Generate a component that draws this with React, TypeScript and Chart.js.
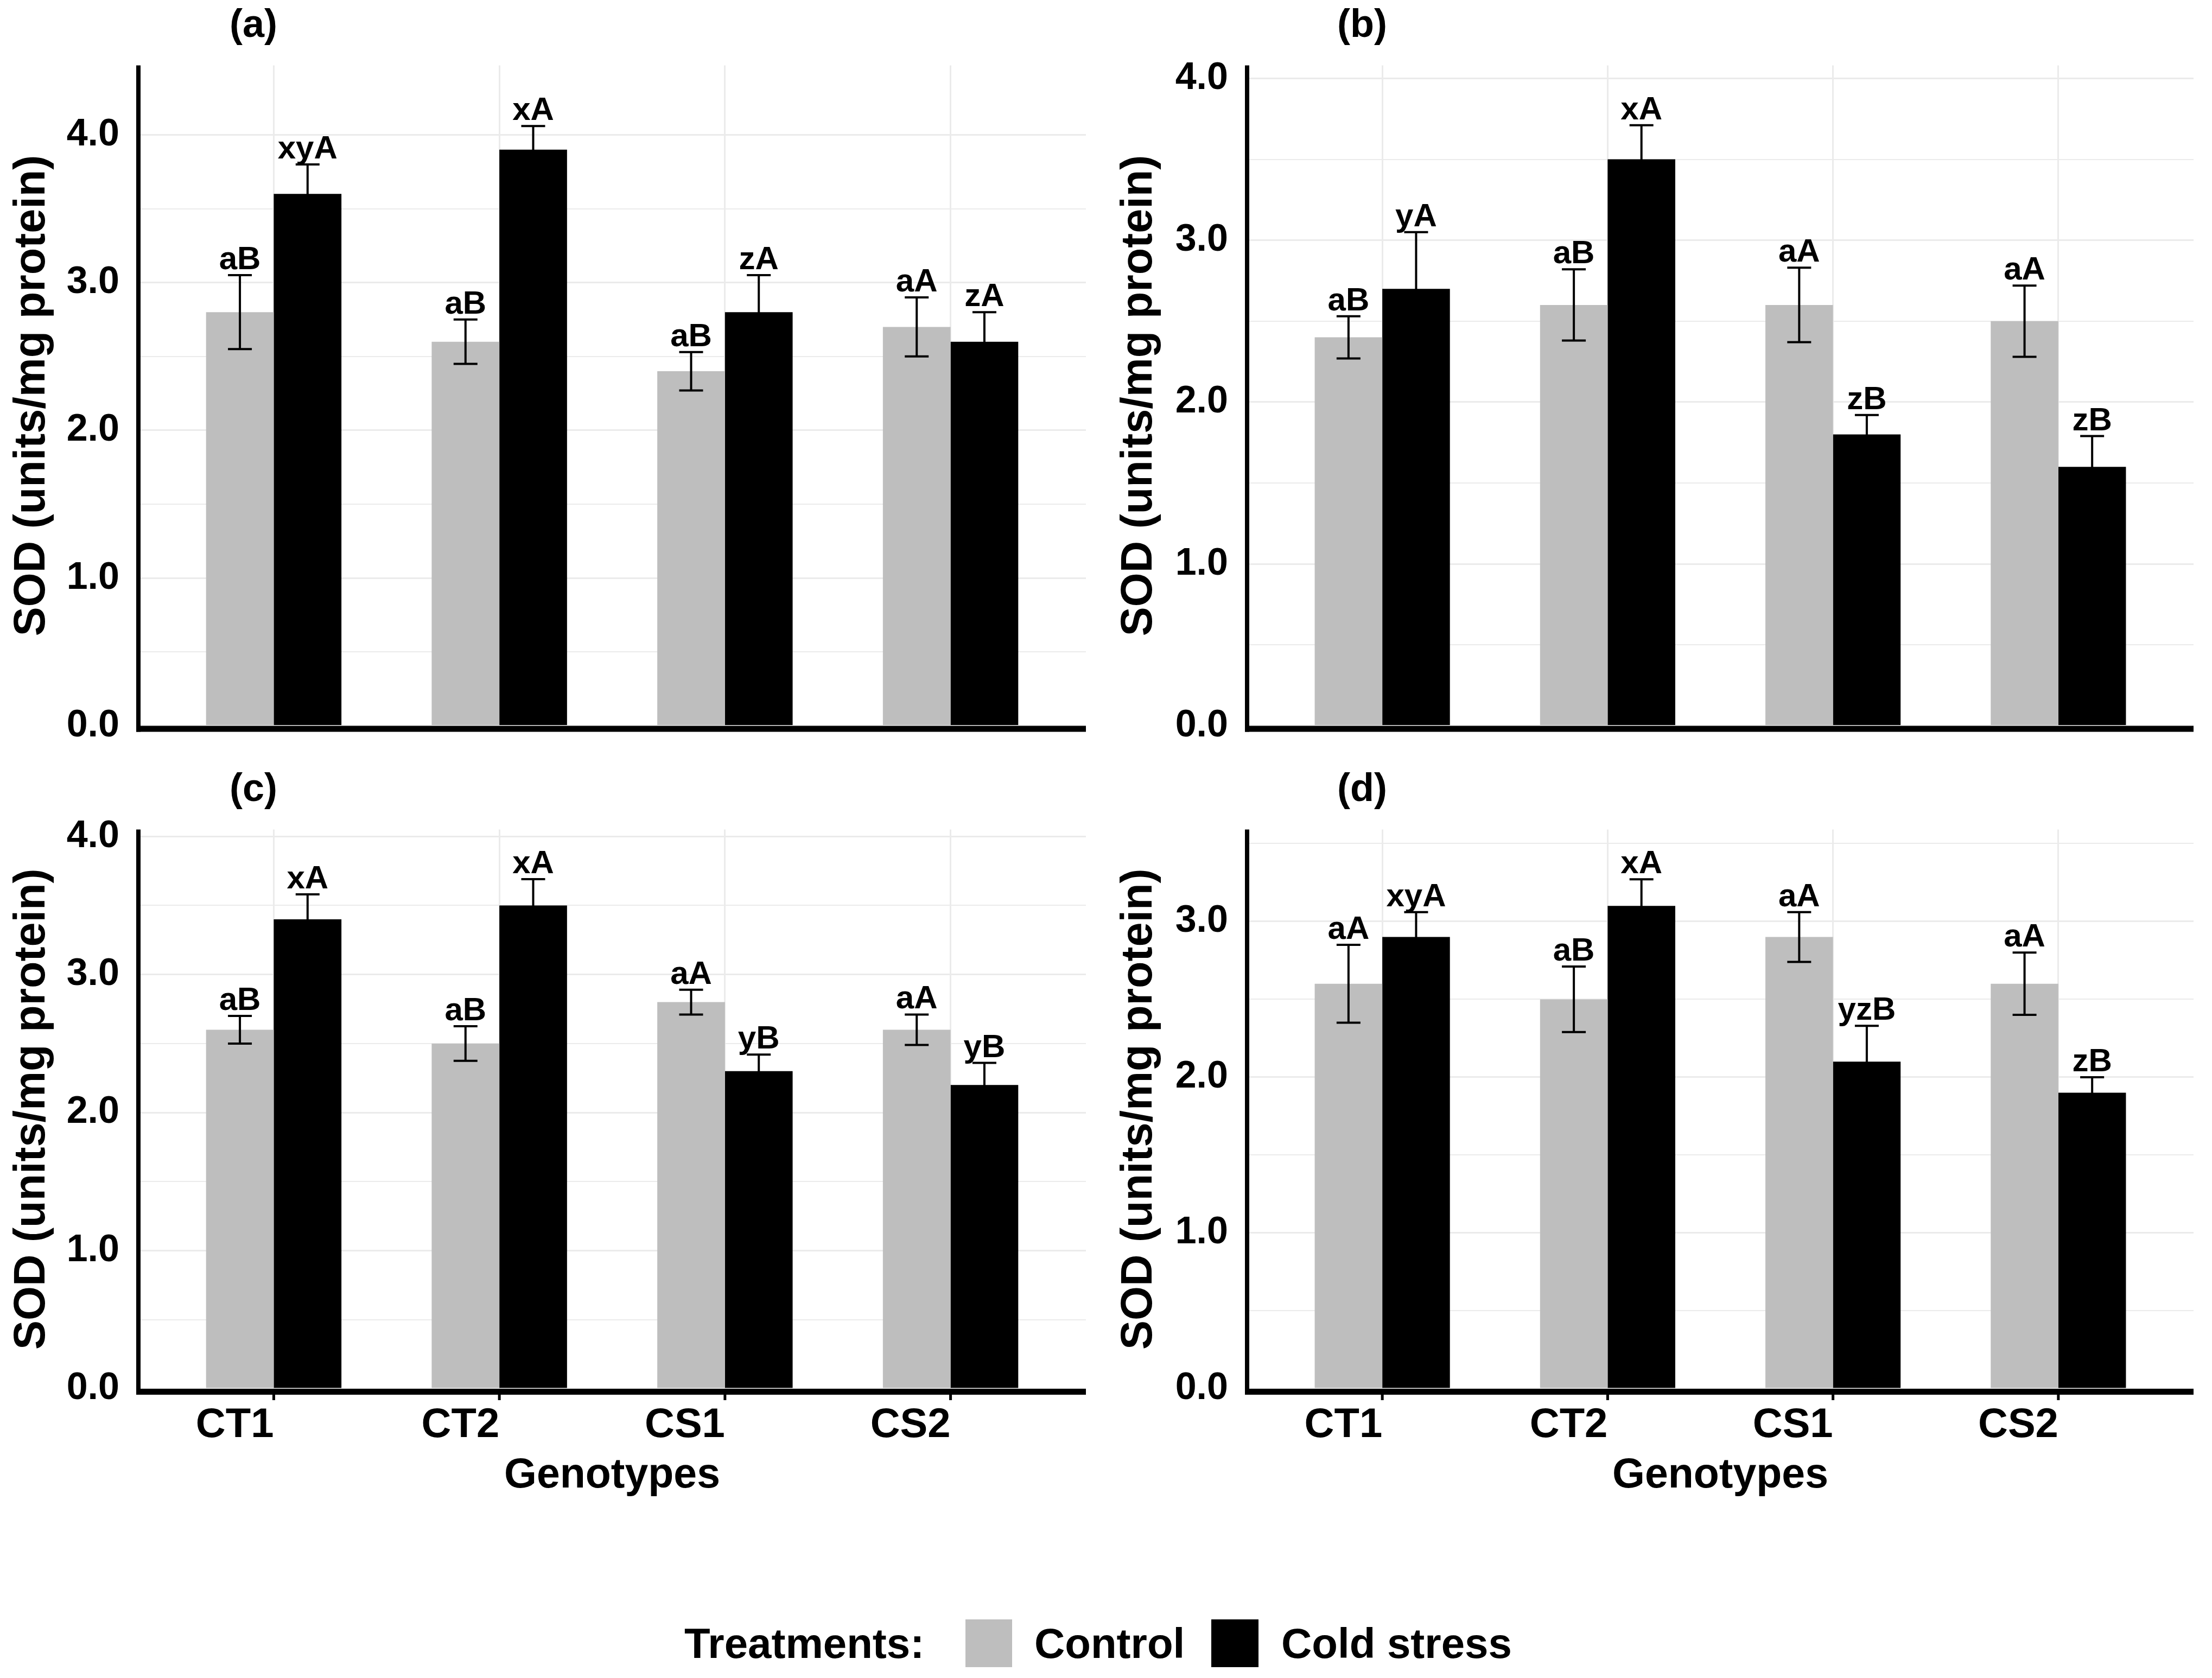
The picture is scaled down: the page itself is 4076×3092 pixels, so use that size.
import React, { useEffect, useRef } from 'react';
import { Chart, registerables } from 'chart.js';

Chart.register(...registerables);

Chart.defaults.font.family = "'Liberation Sans', Arial, sans-serif";
Chart.defaults.font.weight = 'bold';
Chart.defaults.color = '#000';

const genotypes = ['CT1', 'CT2', 'CS1', 'CS2'];
const treatments = ['Control', 'Cold stress'];
const treatmentColors = ['#bebebe', '#000000'];
const yTickStep = 0.5;

// (a)
const controlA = [2.8, 2.6, 2.4, 2.7];
const coldA = [3.6, 3.9, 2.8, 2.6];
const controlErrA = [0.25, 0.15, 0.13, 0.2];
const coldErrA = [0.2, 0.16, 0.25, 0.2];
const controlLetA = ['aB', 'aB', 'aB', 'aA'];
const coldLetA = ['xyA', 'xA', 'zA', 'zA'];

// (b)
const controlB = [2.4, 2.6, 2.6, 2.5];
const coldB = [2.7, 3.5, 1.8, 1.6];
const controlErrB = [0.13, 0.22, 0.23, 0.22];
const coldErrB = [0.35, 0.21, 0.12, 0.19];
const controlLetB = ['aB', 'aB', 'aA', 'aA'];
const coldLetB = ['yA', 'xA', 'zB', 'zB'];

// (c)
const controlC = [2.6, 2.5, 2.8, 2.6];
const coldC = [3.4, 3.5, 2.3, 2.2];
const controlErrC = [0.1, 0.125, 0.09, 0.11];
const coldErrC = [0.18, 0.19, 0.12, 0.16];
const controlLetC = ['aB', 'aB', 'aA', 'aA'];
const coldLetC = ['xA', 'xA', 'yB', 'yB'];

// (d)
const controlD = [2.6, 2.5, 2.9, 2.6];
const coldD = [2.9, 3.1, 2.1, 1.9];
const controlErrD = [0.25, 0.21, 0.16, 0.2];
const coldErrD = [0.16, 0.17, 0.23, 0.1];
const controlLetD = ['aA', 'aB', 'aA', 'aA'];
const coldLetD = ['xyA', 'xA', 'yzB', 'zB'];

// upper limits of the y axes (ggplot expansion)
const yMaxA = 4.47;
const yMaxB = 4.08;
const yMaxC = 4.05;
const yMaxD = 3.59;

const FONT = "'Liberation Sans', Arial, sans-serif";

// error bars, letters, axis lines, ticks and panel tag
const panelExtras = {
  id: 'panelExtras',
  afterDatasetsDraw(chart: any, _args: any, opts: any) {
    const { ctx, chartArea } = chart;
    const { left, right, top, bottom } = chartArea;
    const ys = chart.scales.y;
    const xs = chart.scales.x;
    ctx.save();

    ctx.strokeStyle = '#000';
    ctx.fillStyle = '#000';
    ctx.lineWidth = 4;
    ctx.font = `bold 60px ${FONT}`;
    ctx.textAlign = 'center';
    ctx.textBaseline = 'alphabetic';
    chart.data.datasets.forEach((ds: any, di: number) => {
      const meta = chart.getDatasetMeta(di);
      meta.data.forEach((bar: any, i: number) => {
        const v = ds.data[i].y;
        const e = ds.errors[i];
        const x = bar.x;
        const hi = ys.getPixelForValue(v + e);
        const lo = ys.getPixelForValue(v - e);
        ctx.beginPath();
        ctx.moveTo(x, lo);
        ctx.lineTo(x, hi);
        ctx.moveTo(x - 22, hi);
        ctx.lineTo(x + 22, hi);
        ctx.moveTo(x - 22, lo);
        ctx.lineTo(x + 22, lo);
        ctx.stroke();
        ctx.fillText(ds.letters[i], x, hi - 11);
      });
    });

    // axis lines
    ctx.fillRect(left - 4, top, 8, bottom - top + 11);
    ctx.fillRect(left - 4, bottom, right - left + 4, 11);

    if (opts.bottom) {
      genotypes.forEach((_g, i) => {
        const px = xs.getPixelForValue(i);
        ctx.fillRect(px - 2.5, bottom + 11, 5, 10);
      });
    }

    ctx.font = `bold 72px ${FONT}`;
    ctx.textBaseline = 'middle';
    ctx.fillText(opts.tag, left + 212, top - 72);
    ctx.restore();
  },
};

type PanelProps = {
  tag: string;
  control: number[];
  cold: number[];
  controlErr: number[];
  coldErr: number[];
  controlLet: string[];
  coldLet: string[];
  yMax: number;
  bottom: boolean;
  left: number;
  top: number;
  width: number;
  height: number;
  padTop: number;
  padRight: number;
  yWidth: number;
  xHeight: number;
};

function Panel(p: PanelProps) {
  const canvasRef = useRef<HTMLCanvasElement | null>(null);

  useEffect(() => {
    const canvas = canvasRef.current;
    if (!canvas) return;

    const chart = new Chart(canvas, {
      type: 'bar',
      data: {
        datasets: [
          {
            label: treatments[0],
            data: p.control.map((v, i) => ({ x: i, y: v })),
            backgroundColor: treatmentColors[0],
            borderWidth: 0,
            errors: p.controlErr,
            letters: p.controlLet,
          } as any,
          {
            label: treatments[1],
            data: p.cold.map((v, i) => ({ x: i, y: v })),
            backgroundColor: treatmentColors[1],
            borderWidth: 0,
            errors: p.coldErr,
            letters: p.coldLet,
          } as any,
        ],
      },
      options: {
        animation: false,
        responsive: false,
        layout: { padding: { left: 0, right: p.padRight, top: p.padTop, bottom: 0 } },
        datasets: { bar: { categoryPercentage: 0.6, barPercentage: 1.0 } },
        plugins: {
          legend: { display: false },
          tooltip: { enabled: false },
          panelExtras: { tag: p.tag, bottom: p.bottom },
        } as any,
        scales: {
          x: {
            type: 'linear',
            min: -0.6,
            max: 3.6,
            offset: false,
            afterBuildTicks: (s: any) => {
              s.ticks = genotypes.map((_g, i) => ({ value: i }));
            },
            afterFit: (s: any) => {
              s.height = p.xHeight;
            },
            grid: { color: '#ebebeb', lineWidth: 3, drawTicks: false, offset: false },
            border: { display: false },
            ticks: {
              display: p.bottom,
              callback: (v: any) => genotypes[v],
              align: 'end',
              padding: 22,
              autoSkip: false,
              maxRotation: 0,
              color: '#000',
              font: { size: 76, weight: 'bold' },
            },
            title: {
              display: p.bottom,
              text: 'Genotypes',
              color: '#000',
              font: { size: 77, weight: 'bold' },
              padding: { top: 0, bottom: 34 },
            },
          },
          y: {
            min: 0,
            max: p.yMax,
            afterBuildTicks: (s: any) => {
              const t: any[] = [];
              for (let k = 0; k * yTickStep <= p.yMax + 1e-9; k++) t.push({ value: k * yTickStep });
              s.ticks = t;
            },
            afterFit: (s: any) => {
              s.width = p.yWidth;
            },
            grid: {
              color: '#ebebeb',
              lineWidth: (c: any) => (c.tick && c.tick.value % 1 === 0 ? 3 : 2),
              drawTicks: false,
            },
            border: { display: false },
            ticks: {
              callback: (v: any) => (Number(v) % 1 === 0 ? Number(v).toFixed(1) : ''),
              padding: 35,
              color: '#000',
              font: { size: 70, weight: 'bold' },
            },
            title: {
              display: true,
              text: 'SOD (units/mg protein)',
              color: '#000',
              font: { size: 81, weight: 'bold' },
              padding: { top: 11, bottom: 0 },
            },
          },
        } as any,
      },
      plugins: [panelExtras],
    });

    return () => {
      chart.destroy();
    };
  }, []);

  return (
    <canvas
      ref={canvasRef}
      width={p.width}
      height={p.height}
      style={{ position: 'absolute', left: p.left, top: p.top }}
    />
  );
}

const legendText: React.CSSProperties = {
  position: 'absolute',
  top: 2984,
  height: 88,
  lineHeight: '88px',
  fontSize: 78,
  fontWeight: 'bold',
  fontFamily: FONT,
  color: '#000',
  whiteSpace: 'nowrap',
};

export default function App() {
  return (
    <div
      style={{
        position: 'absolute',
        left: 0,
        top: 0,
        width: 4076,
        height: 3092,
        background: '#fff',
        overflow: 'hidden',
      }}
    >
      <Panel
        tag="(a)" control={controlA} cold={coldA} controlErr={controlErrA} coldErr={coldErrA}
        controlLet={controlLetA} coldLet={coldLetA} yMax={yMaxA} bottom={false}
        left={0} top={0} width={2040} height={1420} padTop={120.5} padRight={39} yWidth={255} xHeight={82.5}
      />
      <Panel
        tag="(b)" control={controlB} cold={coldB} controlErr={controlErrB} coldErr={coldErrB}
        controlLet={controlLetB} coldLet={coldLetB} yMax={yMaxB} bottom={false}
        left={2040} top={0} width={2036} height={1420} padTop={120.5} padRight={34} yWidth={258} xHeight={82.5}
      />
      <Panel
        tag="(c)" control={controlC} cold={coldC} controlErr={controlErrC} coldErr={coldErrC}
        controlLet={controlLetC} coldLet={coldLetC} yMax={yMaxC} bottom={true}
        left={0} top={1420} width={2040} height={1380} padTop={108.5} padRight={39} yWidth={255} xHeight={241}
      />
      <Panel
        tag="(d)" control={controlD} cold={coldD} controlErr={controlErrD} coldErr={coldErrD}
        controlLet={controlLetD} coldLet={coldLetD} yMax={yMaxD} bottom={true}
        left={2040} top={1420} width={2036} height={1380} padTop={108.5} padRight={34} yWidth={258} xHeight={241}
      />

      <div style={{ ...legendText, left: 1261 }}>Treatments:</div>
      <div style={{ position: 'absolute', left: 1779, top: 2984, width: 86, height: 88, background: treatmentColors[0] }} />
      <div style={{ ...legendText, left: 1906 }}>{treatments[0]}</div>
      <div style={{ position: 'absolute', left: 2232, top: 2984, width: 87, height: 88, background: treatmentColors[1] }} />
      <div style={{ ...legendText, left: 2361 }}>{treatments[1]}</div>
    </div>
  );
}
